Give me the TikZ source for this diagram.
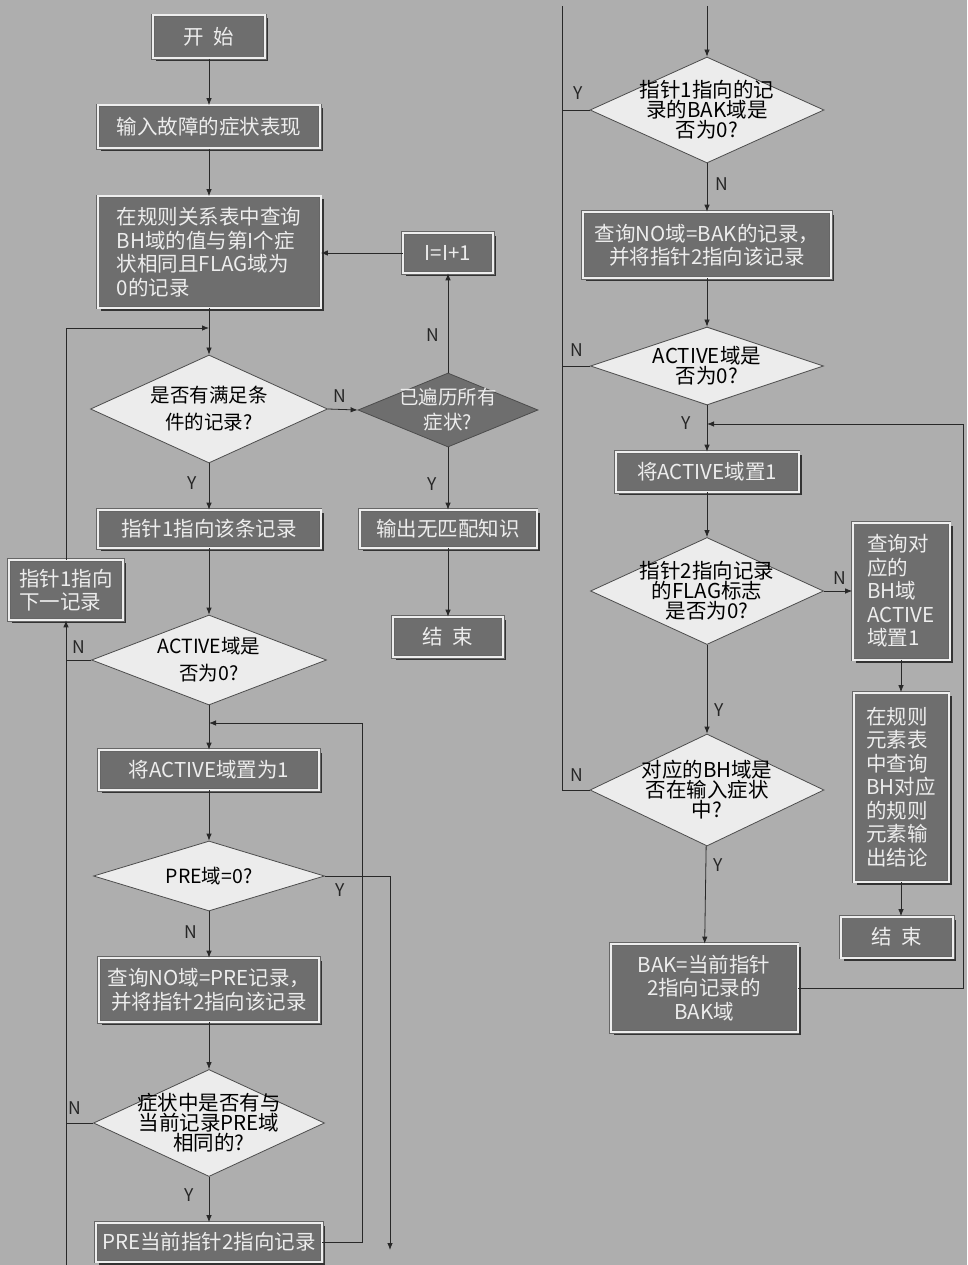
\documentclass[tikz,border=0pt]{standalone}
\usepackage{fontspec}
\setmainfont{Noto Sans CJK SC}
\usetikzlibrary{shapes.geometric,shadows,arrows.meta}
\definecolor{bgcol}{RGB}{174,174,174}
\definecolor{boxcol}{RGB}{110,110,110}
\definecolor{diacol}{RGB}{236,236,236}
\definecolor{framecol}{RGB}{238,238,238}
\definecolor{linecol}{RGB}{40,40,40}
\begin{document}
\begin{tikzpicture}[x=1pt,y=-1pt,
  proc/.style={rectangle, fill=boxcol, draw=black!60, double=framecol, double distance=2pt,
    line width=0.7pt, text=white!93!black, font=\fontsize{20.5}{23.5}\selectfont,
    inner sep=0pt, align=center,
    drop shadow={shadow xshift=3pt, shadow yshift=-3pt, fill=black!80, opacity=1}},
  dec/.style={diamond, fill=diacol, draw=black!70, line width=0.8pt, inner sep=0pt},
  dtext/.style={text=black, font=\fontsize{20.5}{20}\selectfont, align=center, inner sep=0pt},
  lab/.style={font=\fontsize{17.5}{17.5}\selectfont, text=black!85, inner sep=0pt},
  conn/.style={draw=linecol, line width=0.8pt},
  arr/.style={conn, -{Latex[length=7pt,width=5.5pt]}}
]
\fill[bgcol] (0,0) rectangle (967,1265);
\useasboundingbox (0,0) rectangle (967,1265);

% ---------- left column ----------
\node[proc, minimum width=112pt, minimum height=43pt] (start) at (209,37) {开\ \ 始};
\node[proc, minimum width=222pt, minimum height=43pt] (input) at (209,127) {输入故障的症状表现};
\node[proc, minimum width=223pt, minimum height=111pt, align=left] (query) at (209,252)
  {在规则关系表中查询\\BH域的值与第I个症\\状相同且FLAG域为\\0的记录};
\node[proc, minimum width=90pt, minimum height=40pt] (inc) at (448,253) {I=I+1};
\node[dec, minimum width=237pt, minimum height=108pt] (d1) at (209,409) {};
\node[dtext, font=\fontsize{19.5}{27}\selectfont] (d1t) at (d1) {是否有满足条\\件的记录?};
\node[dec, fill=boxcol, minimum width=180pt, minimum height=74pt] (d2) at (448,410) {};
\node[dtext, text=white!93!black, font=\fontsize{19.5}{25}\selectfont] (d2t) at (d2) {已遍历所有\\症状?};
\node[proc, minimum width=177pt, minimum height=38pt] (out) at (448,529) {输出无匹配知识};
\node[proc, minimum width=110pt, minimum height=40pt] (end1) at (448,637) {结\ \ 束};
\node[proc, minimum width=223pt, minimum height=38pt] (p1) at (209,529) {指针1指向该条记录};
\node[proc, minimum width=114pt, minimum height=60pt, align=left] (next) at (66,590) {指针1指向\\下一记录};
\node[dec, minimum width=235pt, minimum height=90pt] (d3) at (209,660) {};
\node[dtext, font=\fontsize{19.5}{27}\selectfont] (d3t) at (d3) {ACTIVE域是\\否为0?};
\node[proc, minimum width=220pt, minimum height=40pt] (setA) at (209,770) {将ACTIVE域置为1};
\node[dec, minimum width=231pt, minimum height=70pt] (d4) at (209,876) {};
\node[dtext, font=\fontsize{19.5}{21}\selectfont] (d4t) at (d4) {PRE域=0?};
\node[proc, minimum width=220pt, minimum height=64pt] (qpre) at (209,990) {查询NO域=PRE记录，\\并将指针2指向该记录};
\node[dec, minimum width=231pt, minimum height=107pt] (d5) at (209,1123) {};
\node[dtext] (d5t) at (d5) {症状中是否有与\\当前记录PRE域\\相同的?};
\node[proc, minimum width=226pt, minimum height=39pt] (pre2) at (209,1242) {PRE当前指针2指向记录};

% ---------- right column ----------
\node[dec, minimum width=234pt, minimum height=106pt] (d6) at (707,110) {};
\node[dtext] (d6t) at (d6) {指针1指向的记\\录的BAK域是\\否为0?};
\node[proc, minimum width=248pt, minimum height=66pt] (q2) at (707,245) {查询NO域=BAK的记录，\\并将指针2指向该记录};
\node[dec, minimum width=233pt, minimum height=78pt] (d7) at (707,366) {};
\node[dtext] (d7t) at (d7) {ACTIVE域是\\否为0?};
\node[proc, minimum width=183pt, minimum height=40pt] (setA2) at (707,472) {将ACTIVE域置1};
\node[dec, minimum width=233pt, minimum height=107pt] (d8) at (707,591) {};
\node[dtext] (d8t) at (d8) {指针2指向记录\\的FLAG标志\\是否为0?};
\node[proc, minimum width=97pt, minimum height=137pt, align=left] (bh) at (901,591) {查询对\\应的\\BH域\\ACTIVE\\域置1};
\node[proc, minimum width=95pt, minimum height=189pt, align=left] (rule) at (901,787) {在规则\\元素表\\中查询\\BH对应\\的规则\\元素输\\出结论};
\node[proc, minimum width=112pt, minimum height=41pt] (end2) at (897,937) {结\ \ 束};
\node[dec, minimum width=234pt, minimum height=112pt] (d9) at (707,790) {};
\node[dtext] (d9t) at (d9) {对应的BH域是\\否在输入症状\\中?};
\node[proc, minimum width=187pt, minimum height=88pt] (bak) at (704,988) {BAK=当前指针\\2指向记录的\\BAK域};

% ---------- helper coordinates ----------
\coordinate (j1) at (209,328);
\coordinate (c2) at (362,723);
\coordinate (j2) at (209,723);
\coordinate (c3) at (390,1250);
\coordinate (c4) at (66,1265);
\coordinate (c5) at (707,6);
\coordinate (c6) at (562,6);
\coordinate (c8) at (963,424);
\coordinate (j3) at (707,424);

% ---------- connectors left ----------
\draw[arr] (start) -- (input);
\draw[arr] (input) -- (query);
\draw[arr] (inc.west) -- (inc.west -| query.east);
\draw[arr] (query) -- (d1);
\draw[arr] (d1.east) -- (d2.west);
\draw[arr] (d2.north) -- (inc.south);
\draw[arr] (d2) -- (out);
\draw[arr] (out) -- (end1);
\draw[arr] (d1) -- (p1);
\draw[arr] (p1) -- (d3);
\draw[conn] (d3.west) -- (d3.west -| next.south);
\draw[conn] (d5.west) -- (d5.west -| next.south);
\draw[arr] (c4) -- (next.south);
\draw[arr] (next.north) |- (j1);
\draw[arr] (d3) -- (setA);
\draw[arr] (pre2.east) -| (c2) -- (j2);
\draw[arr] (setA) -- (d4);
\draw[arr] (d4.east) -| (c3);
\draw[arr] (d4) -- (qpre);
\draw[arr] (qpre) -- (d5);
\draw[arr] (d5) -- (pre2);

% ---------- connectors right ----------
\draw[arr] (c5) -- (d6.north);
\draw[conn] (d9.west) -| (c6);
\draw[conn] (d6.west) -- (d6.west -| c6);
\draw[conn] (d7.west) -- (d7.west -| c6);
\draw[arr] (d6) -- (q2);
\draw[arr] (q2) -- (d7);
\draw[arr] (d7) -- (setA2);
\draw[arr] (setA2) -- (d8);
\draw[arr] (d8.east) -- (bh.west);
\draw[arr] (bh) -- (rule);
\draw[arr] (rule.south) -- (rule.south |- end2.north);
\draw[arr] (d8) -- (d9);
\draw[arr] (d9) -- (bak);
\draw[arr] (bak.east) -| (c8) -- (j3);

% ---------- labels ----------
\node[lab] (l1) at (340,396) {N};
\node[lab] (l2) at (433,335) {N};
\node[lab] (l3) at (432,484) {Y};
\node[lab] (l4) at (192,483) {Y};
\node[lab] (l5) at (79,647) {N};
\node[lab] (l6) at (340,890) {Y};
\node[lab] (l7) at (191,932) {N};
\node[lab] (l8) at (75,1108) {N};
\node[lab] (l9) at (189,1195) {Y};
\node[lab] (l10) at (578,93) {Y};
\node[lab] (l11) at (722,184) {N};
\node[lab] (l12) at (577,350) {N};
\node[lab] (l13) at (686,423) {Y};
\node[lab] (l14) at (840,578) {N};
\node[lab] (l15) at (719,710) {Y};
\node[lab] (l16) at (577,775) {N};
\node[lab] (l17) at (718,865) {Y};
\end{tikzpicture}
\end{document}
